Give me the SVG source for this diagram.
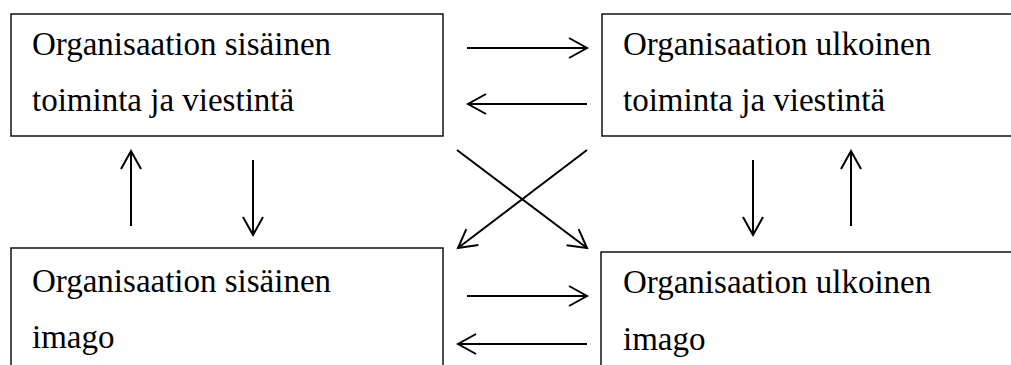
<svg xmlns="http://www.w3.org/2000/svg" width="1011" height="365" viewBox="0 0 1011 365">
<defs>
<style>
.box{fill:#fff;stroke:#000;stroke-width:1.4}
.lbl{font-family:"Liberation Serif","Times New Roman",serif;font-size:33px;fill:#000}
.arr{stroke:#000;stroke-width:2;fill:none;marker-end:url(#ah)}
</style>
<marker id="ah" viewBox="0 0 20 22" refX="18" refY="11" markerWidth="20" markerHeight="22" markerUnits="userSpaceOnUse" orient="auto" overflow="visible">
<path d="M0,1 L18,11 L0,21" fill="none" stroke="#000" stroke-width="2"/>
</marker>
</defs>
<rect width="1011" height="365" fill="#fff"/>
<g id="node-internal-action">
<rect class="box" x="11" y="14" width="432" height="122"/>
<text class="lbl" x="32" y="55">Organisaation sisäinen</text>
<text class="lbl" x="32" y="111">toiminta ja viestintä</text>
</g>
<g id="node-external-action">
<rect class="box" x="602" y="14" width="420" height="122"/>
<text class="lbl" x="623" y="55">Organisaation ulkoinen</text>
<text class="lbl" x="623" y="111">toiminta ja viestintä</text>
</g>
<g id="node-internal-image">
<rect class="box" x="11" y="248" width="432" height="130"/>
<text class="lbl" x="32" y="292">Organisaation sisäinen</text>
<text class="lbl" x="32" y="348">imago</text>
</g>
<g id="node-external-image">
<rect class="box" x="601" y="252" width="420" height="130"/>
<text class="lbl" x="623" y="293">Organisaation ulkoinen</text>
<text class="lbl" x="623" y="350">imago</text>
</g>
<g id="connectors">
<line class="arr" x1="467" y1="48" x2="587" y2="48"/>
<line class="arr" x1="587" y1="104" x2="468" y2="104"/>
<line class="arr" x1="467" y1="296" x2="587" y2="296"/>
<line class="arr" x1="587" y1="344" x2="458" y2="344"/>
<line class="arr" x1="457" y1="150" x2="587" y2="248"/>
<line class="arr" x1="587" y1="150" x2="458" y2="248"/>
<line class="arr" x1="131" y1="226" x2="131" y2="151"/>
<line class="arr" x1="253" y1="160" x2="253" y2="235"/>
<line class="arr" x1="753" y1="160" x2="753" y2="235"/>
<line class="arr" x1="851" y1="226" x2="851" y2="151"/>
</g>
</svg>
